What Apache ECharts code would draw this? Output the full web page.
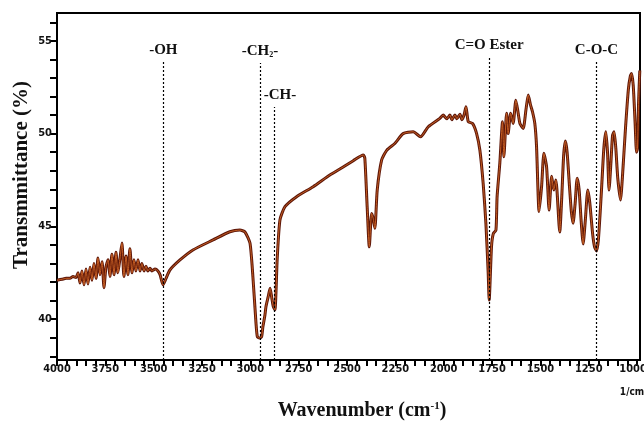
<!DOCTYPE html>
<html>
<head>
<meta charset="utf-8">
<title>FTIR</title>
<script src="https://cdn.jsdelivr.net/npm/echarts@6/dist/echarts.min.js"></script>
<style>
    html, body { margin: 0; padding: 0; background: #fff; }
    #chart { width: 644px; height: 425px; }
</style>
</head>
<body>
<div id="chart"></div>
<script>
// 光谱数据 (波数 cm-1 / 透过率 %)
var wavenumber = [
    4000, 3974, 3953, 3933, 3917, 3902, 3891, 3881, 3871, 3860, 3850, 3840, 3829, 3819, 3809, 3798,
    3788, 3778, 3767, 3757, 3747, 3736, 3726, 3716, 3705, 3695, 3685, 3674, 3664, 3654, 3643, 3633,
    3623, 3612, 3602, 3592, 3581, 3571, 3561, 3550, 3540, 3530, 3519, 3509, 3493, 3478, 3467, 3452,
    3436, 3416, 3364, 3297, 3193, 3106, 3054, 3028, 3002, 2987, 2971, 2964, 2953, 2942, 2935, 2925,
    2919, 2908, 2898, 2890, 2882, 2873, 2861, 2847, 2821, 2761, 2675, 2589, 2520, 2468, 2416, 2408,
    2396, 2385, 2373, 2365, 2356, 2344, 2321, 2295, 2253, 2210, 2158, 2120, 2080, 2020, 2003, 1984,
    1968, 1958, 1942, 1932, 1916, 1906, 1895, 1885, 1873, 1851, 1830, 1813, 1796, 1782, 1770, 1765,
    1753, 1744, 1730, 1724, 1710, 1696, 1689, 1675, 1667, 1654, 1641, 1627, 1615, 1606, 1589, 1575,
    1563, 1551, 1541, 1529, 1520, 1507, 1494, 1482, 1468, 1455, 1442, 1431, 1420, 1400, 1390, 1380,
    1371, 1362, 1350, 1340, 1331, 1320, 1310, 1300, 1290, 1279, 1268, 1255, 1245, 1230, 1220, 1210,
    1200, 1185, 1172, 1162, 1153, 1145, 1135, 1127, 1119, 1110, 1100, 1086, 1075, 1060, 1045, 1035,
    1029, 1020, 1010, 1003, 998, 992, 986
];
var transmittance = [
    42.1, 42.15, 42.2, 42.2, 42.3, 42.25, 42.5, 41.95, 42.6, 41.85, 42.7, 41.9, 42.8, 42.1, 43.0, 42.2,
    43.3, 42.4, 43.1, 41.7, 42.8, 43.2, 42.3, 43.5, 42.4, 43.6, 42.5, 43.3, 44.1, 42.3, 43.4, 42.4,
    43.8, 42.5, 43.2, 42.6, 43.2, 42.6, 43.0, 42.6, 42.85, 42.6, 42.75, 42.6, 42.7, 42.6, 42.4, 41.85,
    42.2, 42.65, 43.19, 43.73, 44.27, 44.71, 44.8, 44.7, 44.1, 42.3, 39.8, 39.06, 38.98, 39.05, 39.6, 40.2,
    40.7, 41.2, 41.66, 41.2, 40.7, 40.5, 43.3, 45.35, 46.06, 46.6, 47.14, 47.77, 48.2, 48.54, 48.85, 48.67,
    46.06, 43.9, 45.7, 45.44, 44.9, 46.96, 48.58, 49.1, 49.47, 50.0, 50.1, 49.83, 50.37, 50.82, 51.0, 50.8,
    51.0, 50.75, 51.0, 50.8, 51.05, 50.75, 51.0, 51.45, 50.64, 50.55, 50.0, 49.1, 47.3, 45.17, 42.47, 41.03,
    43.9, 44.6, 44.8, 46.6, 48.4, 50.64, 48.75, 51.1, 50.0, 51.1, 50.55, 51.8, 51.1, 50.55, 50.28, 51.27,
    52.08, 51.54, 51.18, 50.55, 49.3, 45.8, 47.14, 48.94, 48.2, 45.88, 47.7, 46.96, 47.5, 44.7, 46.5, 48.8,
    49.6, 49.0, 47.2, 45.8, 45.17, 46.3, 47.6, 47.0, 45.4, 44.05, 45.3, 46.96, 46.3, 44.6, 43.9, 43.68,
    44.3, 46.8, 49.2, 50.1, 49.0, 46.96, 48.5, 49.9, 50.1, 49.2, 47.6, 46.42, 47.8, 50.3, 52.4, 53.1,
    53.24, 52.6, 50.5, 49.0, 49.2, 51.8, 53.4
];

// 刻度
var xTickLabels = [4000, 3750, 3500, 3250, 3000, 2750, 2500, 2250, 2000, 1750, 1500, 1250, 1000];
var yTickLabels = [40, 45, 50, 55];
var xMinorTicks = [];
for (var t = 1000; t <= 4000; t += 50) xMinorTicks.push(t);
var yMinorTicks = [];
for (var u = 38; u <= 56; u++) yMinorTicks.push(u);

// 官能团标注
var bandNames = ['-OH', '-CH{sub|2}-', '{pad|-CH-}', 'C=O Ester', 'C-O-C'];
var bandPositions = [3450, 2950, 2878, 1765, 1210];
var bandTops = [53.86, 53.8, 51.43, 54.13, 53.86];

var yMin = 37.8;
var tickFont = '"Liberation Sans Narrow", "Arial Narrow", "DejaVu Sans Condensed", sans-serif';
var serifFont = '"Liberation Serif", "Times New Roman", serif';

var spectrum = wavenumber.map(function (w, i) { return [w, transmittance[i]]; });

var bandLines = bandNames.map(function (name, i) {
    return [
        { coord: [bandPositions[i], yMin], label: { formatter: name } },
        { coord: [bandPositions[i], bandTops[i]] }
    ];
});

var myChart = echarts.init(document.getElementById('chart'));

var option = {
    animation: false,
    grid: {
        left: 57, right: 4, top: 13, bottom: 65,
        containLabel: false, outerBoundsMode: 'none',
        show: true, borderColor: '#000', borderWidth: 2
    },
    xAxis: {
        type: 'value', inverse: true, min: 985, max: 4000,
        axisLine: { onZero: false, lineStyle: { color: '#000', width: 2 } },
        axisTick: { customValues: xMinorTicks, length: 6, lineStyle: { color: '#000', width: 2 } },
        axisLabel: {
            customValues: xTickLabels, color: '#111', fontFamily: tickFont, fontWeight: 'bold', fontSize: 11, margin: 4,
            formatter: function (v) { return v === 1000 ? '{e|1000}' : String(v); },
            rich: {
                e: { color: '#111', fontFamily: tickFont, fontWeight: 'bold', fontSize: 11, padding: [0, 8, 0, 0] }
            }
        },
        splitLine: { show: false }
    },
    yAxis: {
        type: 'value', min: yMin, max: 56.5,
        axisLine: { show: true, onZero: false, lineStyle: { color: '#000', width: 2 } },
        axisTick: { show: true, customValues: yMinorTicks, length: 7, lineStyle: { color: '#000', width: 2 } },
        axisLabel: {
            customValues: yTickLabels, color: '#111', fontFamily: tickFont, fontWeight: 'bold', fontSize: 11, margin: 5,
            formatter: function (v) { return String(v); }
        },
        splitLine: { show: false }
    },
    series: [{
        type: 'line',
        data: spectrum,
        showSymbol: false,
        smooth: 0.2,
        z: 2,
        lineStyle: { color: '#5e1709', width: 3 },
        markLine: {
            silent: true,
            symbol: ['none', 'none'],
            animation: false,
            lineStyle: { color: '#000', type: [2, 2], width: 1.2 },
            label: {
                position: 'end', distance: 4, color: '#111',
                fontFamily: serifFont, fontWeight: 'bold', fontSize: 15,
                rich: {
                    sub: { fontFamily: serifFont, fontWeight: 'bold', fontSize: 8, padding: [8, 0, 0, 0], color: '#111' },
                    pad: { fontFamily: serifFont, fontWeight: 'bold', fontSize: 15, padding: [0, 0, 0, 12], color: '#111' }
                }
            },
            data: bandLines
        }
    }, {
        type: 'line',
        data: spectrum,
        showSymbol: false,
        smooth: 0.2,
        silent: true,
        z: 3,
        lineStyle: { color: '#c45d22', width: 1 }
    }],
    graphic: [{
        type: 'text', x: 22, y: 175, rotation: Math.PI / 2,
        style: {
            text: 'Transmmittance (%)', fill: '#111',
            font: 'bold 21px ' + serifFont,
            textAlign: 'center', textVerticalAlign: 'middle', align: 'center', verticalAlign: 'middle'
        }
    }, {
        type: 'text', x: 362, y: 411,
        style: {
            text: 'Wavenumber (cm{sup|-1})', fill: '#111',
            fontFamily: serifFont, fontWeight: 'bold', fontSize: 20,
            textAlign: 'center', textVerticalAlign: 'middle', align: 'center', verticalAlign: 'middle',
            rich: {
                sup: { fontFamily: serifFont, fontWeight: 'bold', fontSize: 11, padding: [0, 0, 10, 0], fill: '#111' }
            }
        }
    }, {
        type: 'text', x: 632, y: 392,
        style: {
            text: '1/cm', fill: '#111',
            font: 'bold 10px ' + tickFont,
            textAlign: 'center', textVerticalAlign: 'middle', align: 'center', verticalAlign: 'middle'
        }
    }]
};

myChart.setOption(option);
</script>
</body>
</html>
